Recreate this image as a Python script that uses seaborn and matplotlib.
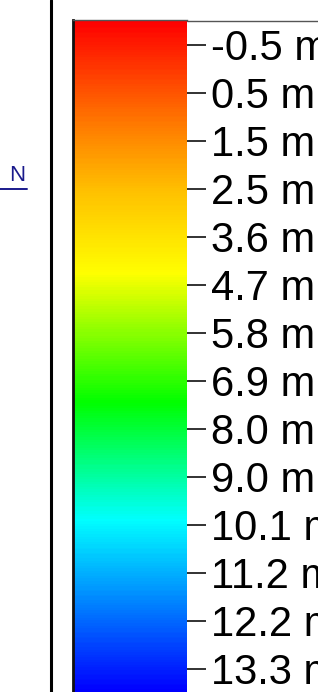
import numpy as np
import matplotlib
matplotlib.use("Agg")
import matplotlib.pyplot as plt
from matplotlib.colors import LinearSegmentedColormap
from matplotlib.lines import Line2D
import seaborn as sns

# Legend labels (depth), top to bottom
depth_labels = ["-0.5 m", "0.5 m", "1.5 m", "2.5 m", "3.6 m", "4.7 m", "5.8 m",
                "6.9 m", "8.0 m", "9.0 m", "10.1 m", "11.2 m", "12.2 m", "13.3 m"]

# Colour stops along the bar (fraction from top)
stop_pos = [0.0, 0.164, 0.25, 0.376, 0.57, 0.745, 1.0]
stop_colors = ["#ff0000", "#ff8200", "#ffbe00", "#ffff00", "#00ff00", "#00ffff", "#0000ff"]

sns.set_style("white")
plt.rcParams["font.family"] = ["Liberation Sans", "DejaVu Sans"]

W, H = 318, 692
fig = plt.figure(figsize=(W / 100, H / 100), dpi=100)

cmap = LinearSegmentedColormap.from_list("depth", list(zip(stop_pos, stop_colors)))

# colorbar axes (pixel box 73..187, 20..692)
cax = fig.add_axes([73 / W, 0, (187 - 73) / W, (H - 20) / H])
n_rows = 400
grad = np.linspace(0, 1, n_rows).reshape(-1, 1)
sns.heatmap(grad, cmap=cmap, cbar=False, ax=cax, vmin=0, vmax=1,
            xticklabels=False, yticklabels=False)

# ticks evenly spaced: first at 25 px below top, 48 px apart
span_px = H - 20
tick_rows = [(25 + 48 * i) / span_px * n_rows for i in range(len(depth_labels))]
cax.yaxis.tick_right()
cax.set_yticks(tick_rows)
cax.set_yticklabels(depth_labels, fontsize=30)
cax.tick_params(axis="y", right=True, length=14, width=1.3, color="#222222",
                pad=3, labelcolor="black")
for side in ["right", "bottom"]:
    cax.spines[side].set_visible(False)
cax.spines["left"].set_visible(True)
cax.spines["left"].set_color("#111111")
cax.spines["left"].set_linewidth(2)
cax.spines["top"].set_visible(True)
cax.spines["top"].set_color("#555555")
cax.spines["top"].set_linewidth(1)

# frame top line continuing to the right
fig.add_artist(Line2D([187 / W, 1], [1 - 20.5 / H, 1 - 20.5 / H],
                      transform=fig.transFigure, color="#555555", lw=1))

# vertical separator
fig.add_artist(Line2D([51 / W, 51 / W], [0, 1], transform=fig.transFigure,
                      color="black", lw=2.2))

# north label with underline
fig.text(17.5 / W, 1 - 175.5 / H, "N", color="#1a1a8c", fontsize=16,
         ha="center", va="center")
fig.add_artist(Line2D([0, 27 / W], [1 - 189 / H, 1 - 189 / H],
                      transform=fig.transFigure, color="#1a1a8c", lw=1.4))

fig.savefig("out.png", dpi=100)
